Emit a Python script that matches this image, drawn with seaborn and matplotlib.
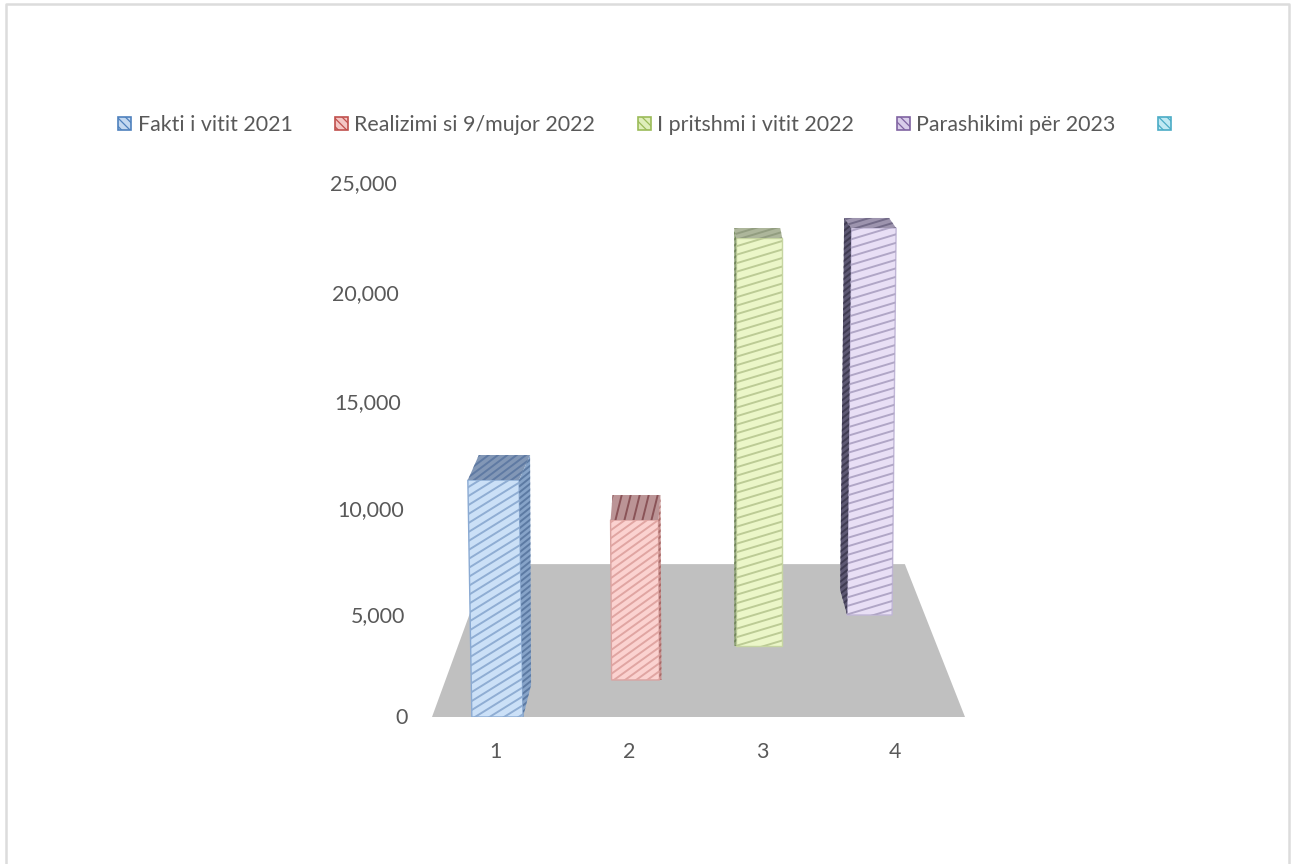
import numpy as np
import pandas as pd
import matplotlib
matplotlib.use('Agg')
import matplotlib.pyplot as plt
import seaborn as sns
from matplotlib.lines import Line2D
from matplotlib.patches import Patch, Polygon
from matplotlib.transforms import Affine2D, IdentityTransform

# values
categories = ['1', '2', '3', '4']
series_names = ['Fakti i vitit 2021', 'Realizimi si 9/mujor 2022',
                'I pritshmi i vitit 2022', 'Parashikimi për 2023', '']
bar_tops = [11355, 9480, 22500, 22955]
bar_bases = [0, 1815, 3480, 5000]
y_ticks = [0, 5000, 10000, 15000, 20000, 25000]
y_tick_labels = ['0', '5,000', '10,000', '15,000', '20,000', '25,000']
floor_back = 7400

# the value axis of the 3d view is not quite linear
tick_heights = [0, 102, 208, 315, 424, 534]
tick_lean = [0, -2, -4, -7, -9, -11]

# styles
front_colors = ['#cbe0f7', '#fbd2d0', '#ebf6c8', '#e8dff5']
front_stripes = ['#8fadd3', '#e0a5a2', '#bccb95', '#b0a6c6']
top_colors = ['#8297b6', '#bb9496', '#adb69b', '#9d94ae']
top_stripes = ['#5f7aa3', '#8a5357', '#929d80', '#736b88']
side_colors = ['#86a3c8', '#c98f8d', '#8fa278', '#5d5873']
side_stripes = ['#5c7aa3', '#a86a68', '#72855c', '#3f3b52']
edge_colors = ['#8aaad3', '#d9a3a1', '#c6d5a2', '#c0b6d6']
legend_colors = ['#4f81bd', '#c0504d', '#9bbb59', '#8064a2', '#4bacc6']
legend_faces = ['#c3d8f0', '#f4c6c4', '#dfeebb', '#d9cdea', '#c0e9f3']
text_color = '#595959'

bar_shift = [0.012, 0.05, -0.02, -0.19]
bar_width = [0.385, 0.36, 0.346, 0.338]
lean_px = [-4, -1, 0, 4]
top_depth = [(11, 25), (2, 25), (-2, 10), (-7, 10)]
foot_depth = [(8, 32), (2, 0), (-2, 0), (-7, 25)]
side_right = [True, True, False, False]
stripe_slope = [0.62, 0.72, 0.3, 0.3]
stripe_gap = [9, 8, 8.5, 8.5]
top_slope = [0.75, 4, 0.3, 0.3]
top_gap = [7, 36, 6, 6]

W, H = 1291, 864
sns.set_theme(style='white')
plt.rcParams['font.family'] = ['Lato', 'DejaVu Sans']
plt.rcParams['hatch.linewidth'] = 0.9


def stripes(fig, clip_path, clip_trans, x0, x1, y0, y1, slope, gap, color, z):
    # diagonal lines in pixels, cut to the shape they fill
    span = (x1 - x0) * abs(slope)
    for c in np.arange(y0 - span - gap, y1 + span + gap, gap):
        line = Line2D([x0, x1], [c, c + slope * (x1 - x0)], color=color, lw=1.4,
                      transform=IdentityTransform(), zorder=z)
        line.set_clip_path(clip_path, clip_trans)
        fig.add_artist(line)


def face(fig, pts, color, stripe, slope, gap):
    pts = np.array(pts)
    poly = Polygon(pts, closed=True, facecolor=color, edgecolor='none',
                   transform=IdentityTransform(), zorder=2)
    fig.add_artist(poly)
    stripes(fig, poly.get_path(), poly.get_transform(),
            pts[:, 0].min(), pts[:, 0].max(), pts[:, 1].min(), pts[:, 1].max(),
            slope, gap, stripe, 3)


fig = plt.figure(figsize=(W / 100, H / 100), dpi=100)
ax = fig.add_axes([432 / W, (H - 717) / H, 533 / W, 534 / H])

df = pd.DataFrame({'cat': categories, 'top': bar_tops})
sns.barplot(data=df, x='cat', y='top', hue='cat', palette=front_colors, saturation=1,
            width=0.4, legend=False, ax=ax, zorder=2)
bars = list(ax.patches)

ax.set_yscale('function', functions=(lambda v: np.interp(v, y_ticks, tick_heights),
                                     lambda p: np.interp(p, tick_heights, y_ticks)))
ax.set_ylim(0, 25000)
ax.set_xlim(-0.48, 3.527)
ax.set_yticks(y_ticks)
ax.set_yticklabels(y_tick_labels)
ax.set_xlabel('')
ax.set_ylabel('')
ax.tick_params(axis='y', length=0, pad=17.6, labelsize=15.4, labelcolor=text_color)
ax.tick_params(axis='x', length=0, pad=18, labelsize=15.4, labelcolor=text_color)
ax.patch.set_alpha(0)
sns.despine(ax=ax, left=True, bottom=True, top=True, right=True)

# tick labels follow the slant of the 3d wall
for label, dx in zip(ax.get_yticklabels(), tick_lean):
    label.set_transform(label.get_transform() + Affine2D().translate(dx, 1))

# floor of the 3d view
ax.fill([-0.48, 3.527, 3.075, -0.06], [0, 0, floor_back, floor_back],
        color='#c0c0c0', lw=0, zorder=1)

for i, patch in enumerate(bars):
    left = i + bar_shift[i] - bar_width[i] / 2
    patch.set_x(left)
    patch.set_width(bar_width[i])
    patch.set_y(bar_bases[i])
    patch.set_height(bar_tops[i] - bar_bases[i])
    patch.set_edgecolor(edge_colors[i])
    patch.set_linewidth(1)

    bl = ax.transData.transform((left, bar_bases[i]))
    br = ax.transData.transform((left + bar_width[i], bar_bases[i]))
    tl = ax.transData.transform((left, bar_tops[i]))
    tr = ax.transData.transform((left + bar_width[i], bar_tops[i]))
    k = lean_px[i] / (tl[1] - bl[1])
    skew = Affine2D.from_values(1, 0, k, 1, -k * bl[1], 0)
    patch.set_transform(ax.transData + skew)
    tl, tr = skew.transform(tl), skew.transform(tr)

    stripes(fig, patch.get_path(), patch.get_transform(), bl[0] - 10, br[0] + 10, bl[1], tl[1],
            stripe_slope[i], stripe_gap[i], front_stripes[i], 3)

    d = np.array(top_depth[i])
    f = np.array(foot_depth[i])
    face(fig, [tl, tr, tr + d, tl + d], top_colors[i], top_stripes[i], top_slope[i], top_gap[i])
    if side_right[i]:
        face(fig, [tr, tr + d, br + f, br], side_colors[i], side_stripes[i], 0.8, 6)
    else:
        face(fig, [tl, tl + d, bl + f, bl], side_colors[i], side_stripes[i], 0.8, 6)

handles = [Patch(facecolor=legend_faces[i], edgecolor=legend_colors[i], hatch='\\\\\\\\', lw=1.2)
           for i in range(len(series_names))]
fig.legend(handles, series_names, ncol=5, loc='center', bbox_to_anchor=(648 / W, 1 - 125 / H),
           frameon=False, fontsize=15.4, labelcolor=text_color, handlelength=0.6,
           handleheight=0.6, handletextpad=0.3, columnspacing=2.0, borderpad=0)

# outer frame: left, top and right only, the picture is cut off below
fig.add_artist(Line2D([6 / W, 6 / W, 1289 / W, 1289 / W], [0, 1 - 4 / H, 1 - 4 / H, 0],
                      color='#dcdcdc', lw=1.8, transform=fig.transFigure))

fig.savefig('out.png', dpi=100, facecolor='white')
